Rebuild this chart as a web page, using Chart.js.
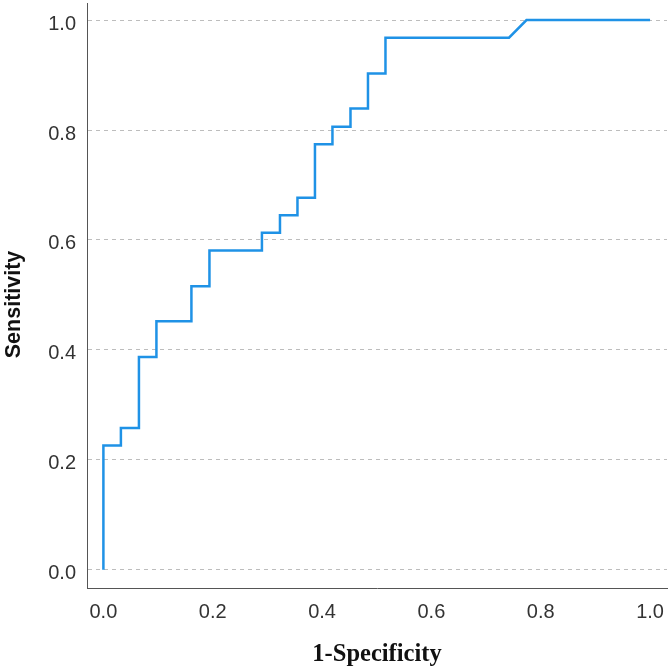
<!DOCTYPE html>
<html>
<head>
<meta charset="utf-8">
<script src="https://cdn.jsdelivr.net/npm/chart.js@4"></script>
<style>
  html, body { margin: 0; padding: 0; background: #fff; }
  canvas { display: block; }
</style>
</head>
<body>
<canvas id="roc-chart" width="669" height="672"></canvas>
<script>
// ROC curve points
const falsePositiveRate = [0, 0, 0.032, 0.032, 0.065, 0.065, 0.097, 0.097, 0.161, 0.161, 0.194, 0.194,
    0.290, 0.290, 0.323, 0.323, 0.355, 0.355, 0.387, 0.387, 0.419, 0.419, 0.452, 0.452,
    0.484, 0.484, 0.516, 0.516, 0.742, 0.774, 1.0];
const truePositiveRate = [0, 0.226, 0.226, 0.258, 0.258, 0.387, 0.387, 0.452, 0.452, 0.516, 0.516, 0.581,
    0.581, 0.613, 0.613, 0.645, 0.645, 0.677, 0.677, 0.774, 0.774, 0.806, 0.806, 0.839,
    0.839, 0.903, 0.903, 0.968, 0.968, 1.0, 1.0];

const xTicks = [0, 0.2, 0.4, 0.6, 0.8, 1.0];
const yTicks = [0, 0.2, 0.4, 0.6, 0.8, 1.0];

const xTitle = '1-Specificity';
const yTitle = 'Sensitivity   ';   // trailing spaces nudge it down a little, like the original

const points = falsePositiveRate.map((x, i) => ({ x: x, y: truePositiveRate[i] }));

const ctx = document.getElementById('roc-chart').getContext('2d');

new Chart(ctx, {
    type: 'line',
    data: {
        datasets: [
            {
                label: 'ROC',
                data: points,
                borderColor: '#1f92e6',
                borderWidth: 2.5,
                pointRadius: 0,
                tension: 0,
                fill: false,
            },
        ],
    },
    options: {
        responsive: false,
        animation: false,
        layout: {
            padding: { top: 3, right: 2, bottom: 0, left: 0 }
        },
        plugins: {
            legend: { display: false },
            tooltip: { enabled: false }
        },
        scales: {
            x: {
                type: 'linear',
                min: -0.03,
                max: 1.031,
                afterBuildTicks: (scale) => {
                    scale.ticks = xTicks.map((v) => ({ value: v }));
                },
                afterFit: (scale) => {
                    scale.height = 84;
                    scale.paddingLeft = 0;
                    scale.paddingRight = 0;
                },
                grid: { display: false, drawTicks: false },
                border: { display: true, color: '#555', width: 1 },
                ticks: {
                    padding: 12,
                    color: '#333',
                    font: { family: 'Liberation Sans', size: 20 },
                    callback: (v) => v.toFixed(1)
                },
                title: {
                    display: true,
                    text: xTitle,
                    color: '#111',
                    font: { family: 'Liberation Serif', size: 24.5, weight: 'bold' },
                    padding: { top: 0, bottom: 3 }
                }
            },
            y: {
                type: 'linear',
                min: -0.033,
                max: 1.031,
                afterBuildTicks: (scale) => {
                    scale.ticks = yTicks.map((v) => ({ value: v }));
                },
                afterFit: (scale) => {
                    scale.width = 87;
                    scale.paddingTop = 0;
                    scale.paddingBottom = 0;
                },
                grid: { color: '#bdbdbd', lineWidth: 1, drawTicks: false },
                border: { display: true, color: '#555', width: 1, dash: [4, 4] },
                ticks: {
                    padding: 11,
                    labelOffset: 4,
                    color: '#333',
                    font: { family: 'Liberation Sans', size: 20 },
                    callback: (v) => v.toFixed(1)
                },
                title: {
                    display: true,
                    text: yTitle,
                    color: '#111',
                    font: { family: 'Liberation Sans', size: 21.5, weight: 'bold', lineHeight: 1 },
                    padding: { top: 3, bottom: 0 }
                }
            }
        }
    }
});
</script>
</body>
</html>
